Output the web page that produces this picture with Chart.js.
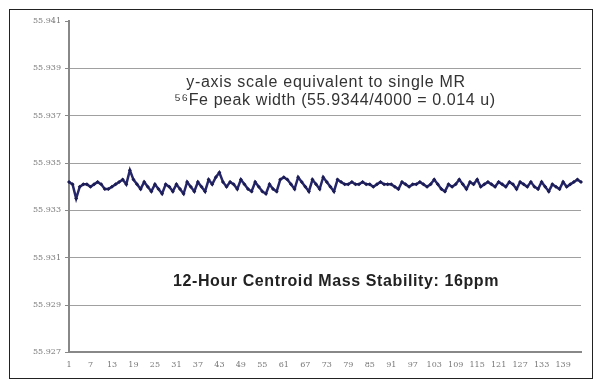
<!DOCTYPE html>
<html>
<head>
<meta charset="utf-8">
<script src="https://cdn.jsdelivr.net/npm/chart.js@4/dist/chart.umd.min.js"></script>
<style>
  html, body { margin: 0; padding: 0; background: #fff; }
  #frame { position: absolute; left: 9px; top: 9px; width: 582px; height: 368px; border: 1px solid #222; }
  #wrap { position: absolute; left: 10px; top: 10px; width: 581px; height: 367px; }
</style>
</head>
<body>
<div id="frame"></div>
<div id="wrap"><canvas id="chart"></canvas></div>
<script>
// 12-hour run, one centroid every 5 minutes
const samples = [
  55.9342, 55.9341, 55.9335, 55.9340, 55.9341, 55.9341, 55.9340, 55.9341, 55.9342, 55.9341,
  55.9339, 55.9339, 55.9340, 55.9341, 55.9342, 55.9343, 55.9341, 55.9347, 55.9343, 55.9341,
  55.9339, 55.9342, 55.9340, 55.9338, 55.9341, 55.9339, 55.9337, 55.9341, 55.9340, 55.9338,
  55.9341, 55.9339, 55.9337, 55.9342, 55.9340, 55.9338, 55.9342, 55.9340, 55.9338, 55.9343,
  55.9341, 55.9344, 55.9346, 55.9342, 55.9340, 55.9342, 55.9341, 55.9339, 55.9343, 55.9341,
  55.9339, 55.9338, 55.9342, 55.9340, 55.9338, 55.9337, 55.9341, 55.9339, 55.9338, 55.9343,
  55.9344, 55.9343, 55.9341, 55.9339, 55.9344, 55.9342, 55.9340, 55.9338, 55.9343, 55.9341,
  55.9339, 55.9344, 55.9342, 55.9340, 55.9338, 55.9343, 55.9342, 55.9341, 55.9341, 55.9342,
  55.9341, 55.9341, 55.9342, 55.9341, 55.9341, 55.9340, 55.9341, 55.9342, 55.9341, 55.9341,
  55.9341, 55.9340, 55.9339, 55.9342, 55.9341, 55.9340, 55.9341, 55.9341, 55.9342, 55.9341,
  55.9340, 55.9341, 55.9343, 55.9341, 55.9339, 55.9338, 55.9341, 55.9340, 55.9341, 55.9343,
  55.9341, 55.9339, 55.9342, 55.9341, 55.9343, 55.9340, 55.9341, 55.9342, 55.9341, 55.9340,
  55.9342, 55.9341, 55.9340, 55.9342, 55.9341, 55.9339, 55.9342, 55.9341, 55.9340, 55.9342,
  55.9340, 55.9339, 55.9342, 55.9340, 55.9338, 55.9341, 55.9340, 55.9339, 55.9342, 55.9340,
  55.9341, 55.9342, 55.9343, 55.9342
];
const sampleNo = samples.map((v, i) => String(i + 1));
const yMin = 55.927, yMax = 55.941, yStep = 0.002;

const noteLines = [
  "y-axis scale equivalent to single MR",
  "\u2075\u2076Fe peak width (55.9344/4000 = 0.014 u)"
];
const stabilityNote = "12-Hour Centroid Mass Stability: 16ppm";

// draw the text notes inside the plot
const notes = {
  id: "notes",
  afterDatasetsDraw(chart) {
    const ctx = chart.ctx;
    ctx.save();
    ctx.fillStyle = "#333";
    ctx.textAlign = "center";
    ctx.textBaseline = "middle";
    ctx.letterSpacing = "0.7px";
    ctx.font = "16px 'Liberation Sans', Arial, sans-serif";
    ctx.fillText(noteLines[0], 316, 73);
    ctx.letterSpacing = "0.6px";
    ctx.fillText(noteLines[1], 325, 91);
    ctx.font = "bold 16px 'Liberation Sans', Arial, sans-serif";
    ctx.letterSpacing = "0.6px";
    ctx.fillStyle = "#222";
    ctx.fillText(stabilityNote, 326, 272);
    ctx.restore();
  }
};

new Chart(document.getElementById("chart"), {
  type: "line",
  data: {
    labels: sampleNo,
    datasets: [{
      data: samples,
      borderColor: "#26266a",
      borderWidth: 2.5,
      backgroundColor: "#1c1c55",
      pointStyle: "rectRot",
      pointRadius: 2,
      pointBorderWidth: 0,
      tension: 0
    }]
  },
  options: {
    responsive: true,
    maintainAspectRatio: false,
    animation: false,
    layout: { padding: { top: 11, right: 10, left: 0, bottom: 7 } },
    plugins: { legend: { display: false }, tooltip: { enabled: false } },
    scales: {
      x: {
        offset: false,
        grid: { display: false },
        border: { display: true, color: "#888", width: 2 },
        ticks: {
          autoSkip: false,
          maxRotation: 0,
          color: "#777",
          font: { size: 8, family: "'DejaVu Serif', serif" },
          padding: 0,
          callback: (v, i) => (i % 6 === 0 ? sampleNo[i] : "")
        }
      },
      y: {
        min: yMin,
        max: yMax,
        afterFit: s => { s.width = 59; },
        grid: {
          color: ctx => (ctx.index === ctx.chart.scales.y.ticks.length - 1 ? "transparent" : "#a0a0a0"),
          tickColor: "#888",
          tickLength: 4,
          lineWidth: 1
        },
        border: { display: true, color: "#888", width: 2 },
        ticks: {
          stepSize: yStep,
          color: "#777",
          padding: 4,
          font: { size: 8, family: "'DejaVu Serif', serif" },
          callback: v => v.toFixed(3)
        }
      }
    }
  },
  plugins: [notes]
});
</script>
</body>
</html>
